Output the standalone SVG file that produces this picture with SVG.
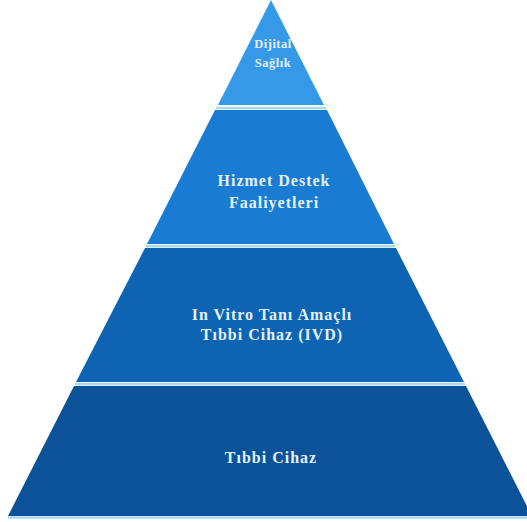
<svg xmlns="http://www.w3.org/2000/svg" width="527" height="522" viewBox="0 0 527 522">
<style>
.lbl{font-family:"Liberation Serif","Times New Roman",serif;font-weight:bold;fill:#e3f1fd;text-anchor:middle;letter-spacing:1px}
.sep{stroke:#a9daf8;stroke-width:2.5}
</style>
<rect width="527" height="522" fill="#ffffff"/>
<g id="tier1">
<polygon points="271,0 324,105 218,105" fill="#3699e8"/>
<text class="lbl" x="273" y="48" font-size="12.5" style="letter-spacing:0.5px">Dijital</text>
<text class="lbl" x="273" y="67" font-size="12.5" style="letter-spacing:0.5px">Sağlık</text>
</g>
<g id="tier2">
<polygon points="215,110 327,110 394,244 147,244" fill="#1a7bd3"/>
<text class="lbl" x="274" y="186" font-size="16">Hizmet Destek</text>
<text class="lbl" x="274" y="208" font-size="16">Faaliyetleri</text>
</g>
<g id="tier3">
<polygon points="145,248 396,248 464,382 76,382" fill="#0e63b3"/>
<text class="lbl" x="272" y="320" font-size="16">In Vitro Tanı Amaçlı</text>
<text class="lbl" x="272" y="340" font-size="16">Tıbbi Cihaz (IVD)</text>
</g>
<g id="tier4">
<polygon points="74,386 466,386 532,516 8,516" fill="#0b5299"/>
<text class="lbl" x="271" y="463" font-size="16">Tıbbi Cihaz</text>
</g>
<g id="connectors">
<line class="sep" x1="216" y1="108" x2="326" y2="108"/>
<line class="sep" x1="146" y1="246.2" x2="395" y2="246.2"/>
<line class="sep" x1="75" y1="384.2" x2="465" y2="384.2"/>
<line class="sep" x1="8" y1="517.5" x2="527" y2="517.5"/>
</g>
</svg>
